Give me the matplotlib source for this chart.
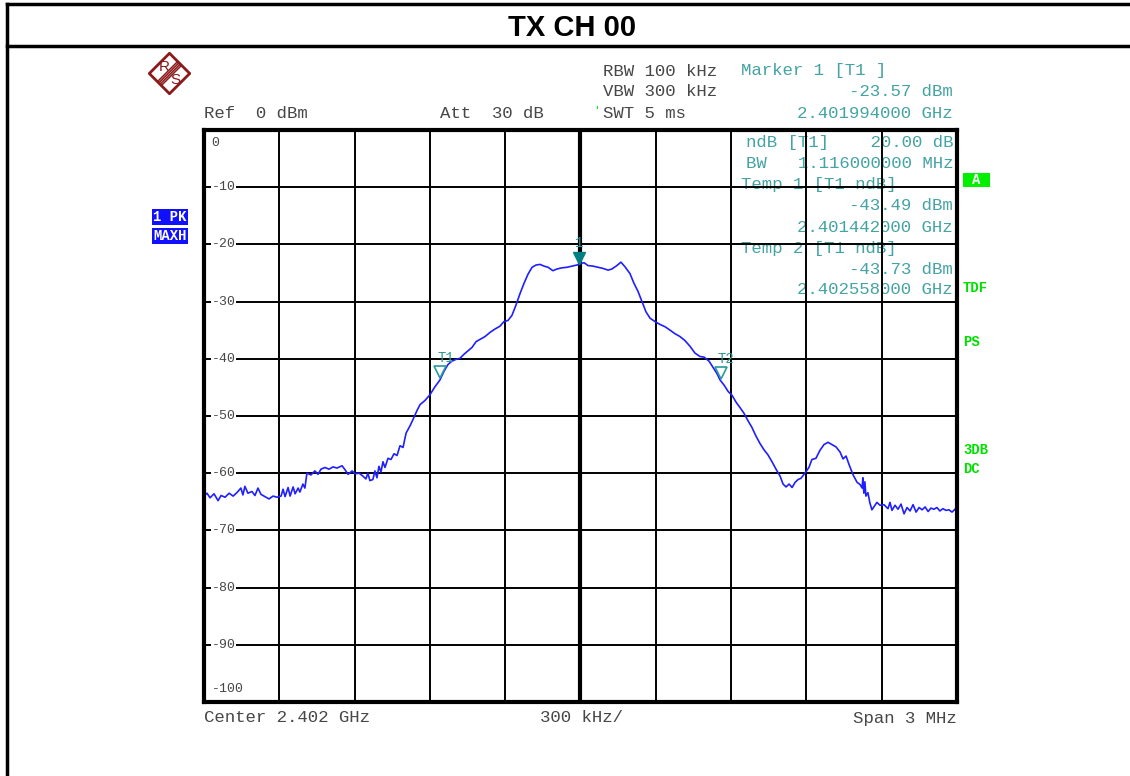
import matplotlib
matplotlib.use("Agg")
import matplotlib.pyplot as plt
from matplotlib.patches import Polygon, Rectangle
import numpy as np

# --- trace data (frequency offset from start in MHz, level in dBm) ---
freq_mhz = [
    0.000, 0.012, 0.024, 0.040, 0.056, 0.068, 0.084, 0.100, 0.116, 0.131,
    0.147, 0.155, 0.163, 0.175, 0.191, 0.203, 0.215, 0.227, 0.243, 0.259,
    0.275, 0.291, 0.307, 0.315, 0.323, 0.335, 0.343, 0.355, 0.363, 0.375,
    0.382, 0.394, 0.402, 0.410, 0.426, 0.442, 0.454, 0.466, 0.482, 0.498,
    0.514, 0.530, 0.550, 0.562, 0.574, 0.590, 0.602, 0.618, 0.633, 0.645,
    0.653, 0.661, 0.673, 0.681, 0.689, 0.697, 0.705, 0.713, 0.721, 0.733,
    0.745, 0.757, 0.769, 0.781, 0.793, 0.805, 0.821, 0.837, 0.849, 0.861,
    0.880, 0.900, 0.920, 0.940, 0.956, 0.972, 0.988, 1.004, 1.020, 1.036,
    1.052, 1.068, 1.084, 1.100, 1.120, 1.139, 1.159, 1.179, 1.195, 1.211,
    1.227, 1.243, 1.259, 1.275, 1.291, 1.307, 1.323, 1.339, 1.355, 1.371,
    1.390, 1.406, 1.426, 1.446, 1.466, 1.486, 1.498, 1.514, 1.530, 1.550,
    1.570, 1.590, 1.610, 1.625, 1.645, 1.661, 1.677, 1.697, 1.713, 1.729,
    1.745, 1.761, 1.777, 1.797, 1.817, 1.837, 1.857, 1.876, 1.896, 1.916,
    1.936, 1.956, 1.976, 1.992, 2.012, 2.028, 2.044, 2.056, 2.072, 2.088,
    2.104, 2.120, 2.135, 2.151, 2.167, 2.183, 2.199, 2.215, 2.231, 2.247,
    2.263, 2.279, 2.295, 2.307, 2.319, 2.331, 2.343, 2.355, 2.367, 2.378,
    2.394, 2.410, 2.422, 2.438, 2.454, 2.470, 2.486, 2.502, 2.518, 2.534,
    2.546, 2.558, 2.570, 2.586, 2.602, 2.614, 2.622, 2.625, 2.629, 2.633,
    2.637, 2.645, 2.653, 2.661, 2.673, 2.681, 2.693, 2.709, 2.725, 2.733,
    2.741, 2.753, 2.765, 2.777, 2.789, 2.801, 2.813, 2.825, 2.837, 2.849,
    2.861, 2.873, 2.885, 2.896, 2.908, 2.920, 2.932, 2.944, 2.956, 2.968,
    2.980, 2.992, 3.000,
]
level_dbm = [
    -64.0, -63.5, -64.3, -63.6, -64.8, -63.9, -64.2, -63.5, -64.0, -63.4,
    -62.6, -63.8, -62.3, -63.5, -63.2, -63.9, -62.6, -63.7, -64.1, -64.5,
    -64.0, -64.2, -64.0, -62.8, -64.1, -62.5, -64.0, -62.4, -63.6, -62.6,
    -63.3, -61.9, -62.6, -60.0, -60.3, -59.6, -60.2, -59.3, -59.0, -59.3,
    -58.9, -59.1, -58.7, -59.4, -60.2, -59.6, -60.1, -60.0, -60.5, -61.0,
    -60.0, -61.3, -61.1, -59.6, -60.8, -58.8, -59.8, -58.0, -59.0, -57.4,
    -57.6, -56.6, -56.9, -55.2, -55.5, -53.0, -51.7, -50.2, -49.0, -48.0,
    -47.3, -46.3, -44.9, -43.7, -42.2, -41.0, -40.4, -40.1, -39.9, -39.2,
    -38.6, -38.0, -37.0, -36.6, -36.1, -35.4, -34.8, -34.3, -33.5, -33.3,
    -32.4, -30.6, -28.6, -26.8, -25.2, -24.0, -23.6, -23.5, -23.8, -24.0,
    -24.6, -24.3, -24.1, -24.0, -23.8, -23.6, -23.4, -23.2, -23.7, -23.8,
    -24.0, -24.2, -24.5, -24.3, -23.7, -23.1, -23.9, -25.1, -26.8, -28.2,
    -30.0, -31.8, -32.9, -33.5, -34.0, -34.4, -35.0, -35.6, -36.1, -36.8,
    -37.8, -39.0, -39.6, -39.7, -40.4, -41.5, -42.6, -43.7, -44.6, -45.7,
    -46.4, -47.6, -48.5, -49.5, -50.8, -52.0, -53.5, -54.8, -55.9, -56.8,
    -58.0, -59.3, -60.5, -61.9, -62.4, -61.9, -62.5, -61.6, -61.1, -60.9,
    -60.0, -59.0, -57.6, -57.4, -56.0, -55.0, -54.6, -55.0, -55.4, -56.3,
    -57.5, -57.0, -58.5, -60.3, -61.6, -62.0, -62.6, -60.8, -63.5, -61.5,
    -64.0, -63.4, -65.2, -66.4, -65.6, -65.1, -65.6, -65.5, -66.2, -65.1,
    -66.5, -65.6, -66.3, -65.4, -67.1, -66.0, -66.6, -65.5, -66.8, -66.0,
    -66.4, -65.9, -66.7, -66.1, -66.3, -66.0, -66.6, -66.2, -66.5, -66.4,
    -66.8, -66.3, -65.9,
]

# markers: name, freq offset (MHz), level (dBm)
marker_names = ["1", "T1", "T2"]
marker_freq = [1.494, 0.942, 2.058]
marker_level = [-23.57, -43.49, -43.73]

y_ticks = list(range(0, -101, -10))

W, H = 1130, 776
fig = plt.figure(figsize=(W / 100, H / 100), dpi=100)

def fx(px):
    return px / W

def fy(py):
    return 1 - py / H

MONO = "Liberation Mono"
GREY = "#474747"
TEAL = "#45a3a3"
GREEN = "#00e000"

# outer frame and title box
fig.add_artist(plt.Line2D([fx(7), fx(7)], [fy(4), 0], color="black", lw=2.5))
fig.add_artist(plt.Line2D([fx(7), 1], [fy(4), fy(4)], color="black", lw=2.5))
fig.add_artist(plt.Line2D([fx(7), 1], [fy(46), fy(46)], color="black", lw=2.5))
fig.text(fx(572), fy(28), "TX CH 00", ha="center", va="center",
         fontsize=21, fontweight="bold", family="Liberation Sans")

# main plot
ax = fig.add_axes([fx(204), fy(702), fx(957 - 204), (702 - 130) / H])
ax.plot(freq_mhz, level_dbm, color="#1f1fff", lw=1.2, zorder=3)
ax.set_xlim(0, 3)
ax.set_ylim(-100, 0)
ax.set_xticks(np.linspace(0, 3, 11))
ax.set_yticks(y_ticks)
ax.tick_params(length=0, labelbottom=False, labelleft=False)
ax.set_axisbelow(False)
ax.grid(True, color="black", lw=1.4)
ax.axvline(1.5, color="black", lw=3, zorder=2.6)
for s in ax.spines.values():
    s.set_linewidth(3)
    s.set_zorder(4)

# y labels inside the plot
for v in y_ticks:
    if v == 0:
        ax.text(0.03, -1.2, "0", ha="left", va="top", fontsize=9.5,
                family=MONO, color=GREY, zorder=2.7)
    elif v == -100:
        ax.text(0.03, -98.8, "-100", ha="left", va="bottom", fontsize=9.5,
                family=MONO, color=GREY, zorder=2.7)
    else:
        ax.text(0.03, v, str(v), ha="left", va="center", fontsize=9.5,
                family=MONO, color=GREY, zorder=2.7,
                bbox=dict(facecolor="white", edgecolor="none", pad=0.6))

# markers
for name, f, l in zip(marker_names, marker_freq, marker_level):
    if name == "1":
        ax.plot(f, l + 1.2, marker="v", ms=9, color="#008080",
                mec="#008080", zorder=5, ls="none")
        ax.text(f, l + 2.6, name, ha="center", va="bottom", fontsize=10,
                family=MONO, color="#2a9090", zorder=5)
    else:
        ax.plot(f, l + 1.2, marker="v", ms=9, mfc="none", mec="#2a9a9a",
                mew=1.2, zorder=5, ls="none")
        ax.text(f + 0.02, l + 2.4, name, ha="center", va="bottom", fontsize=10,
                family=MONO, color="#2a9a9a", zorder=5)

# marker readout inside the plot (drawn under the grid)
readout = [
    (953, 143, "ndB [T1]    20.00 dB", "right"),
    (953, 164, "BW   1.116000000 MHz", "right"),
    (741, 185, "Temp 1 [T1 ndB]", "left"),
    (953, 206, "-43.49 dBm", "right"),
    (953, 227, "2.401442000 GHz", "right"),
    (741, 248, "Temp 2 [T1 ndB]", "left"),
    (953, 269, "-43.73 dBm", "right"),
    (953, 290, "2.402558000 GHz", "right"),
]
for px, py, s, ha in readout:
    ax.text(fx(px), fy(py), s, transform=fig.transFigure, ha=ha, va="center",
            fontsize=12.5, family=MONO, color=TEAL, zorder=1)

# header texts
header = [
    (603, 71, "RBW 100 kHz", "left", GREY),
    (603, 92, "VBW 300 kHz", "left", GREY),
    (603, 113, "SWT 5 ms", "left", GREY),
    (204, 113, "Ref  0 dBm", "left", GREY),
    (440, 113, "Att  30 dB", "left", GREY),
    (741, 71, "Marker 1 [T1 ]", "left", TEAL),
    (953, 92, "-23.57 dBm", "right", TEAL),
    (953, 113, "2.401994000 GHz", "right", TEAL),
    (204, 718, "Center 2.402 GHz", "left", GREY),
    (582, 718, "300 kHz/", "center", GREY),
    (957, 718, "Span 3 MHz", "right", GREY),
]
for px, py, s, ha, c in header:
    fig.text(fx(px), fy(py), s, ha=ha, va="center", fontsize=12.5,
             family=MONO, color=c)
fig.text(fx(596), fy(111), "'", ha="center", va="center", fontsize=8,
         family=MONO, color=GREEN)

# trace info boxes on the left
for py, s in [(217, "1 PK"), (236, "MAXH")]:
    fig.text(fx(153), fy(py), s, ha="left", va="center", fontsize=10,
             family=MONO, fontweight="bold", color="white",
             bbox=dict(facecolor="#1010ff", edgecolor="none", pad=0.8))

# status labels on the right
fig.add_artist(Rectangle((fx(963), fy(187)), fx(27), 14 / H,
                         transform=fig.transFigure, facecolor="#00f000",
                         edgecolor="none"))
fig.text(fx(976.5), fy(180), "A", ha="center", va="center", fontsize=10,
         family=MONO, fontweight="bold", color="white")
for py, s in [(288, "TDF"), (342, "PS"), (450, "3DB"), (469, "DC")]:
    fig.text(fx(963), fy(py), s, ha="left", va="center", fontsize=10,
             family=MONO, fontweight="bold", color=GREEN)

# R&S logo
lax = fig.add_axes([fx(148), fy(95), 43 / W, 43 / H])
lax.set_xlim(0, 1)
lax.set_ylim(0, 1)
lax.axis("off")
red = "#8b1a1a"
lax.add_patch(Polygon([(0.5, 0.03), (0.97, 0.5), (0.5, 0.97), (0.03, 0.5)],
                      closed=True, fill=False, edgecolor=red, lw=2))
for d in [-0.045, -0.015, 0.015, 0.045]:
    lax.plot([0.265 + d, 0.735 + d], [0.265 - d, 0.735 - d], color=red, lw=1.1)
lax.text(0.37, 0.64, "R", ha="center", va="center", fontsize=11, color=red,
         family="Liberation Sans")
lax.text(0.63, 0.36, "S", ha="center", va="center", fontsize=11, color=red,
         family="Liberation Sans")

fig.savefig("out.png", dpi=100)
